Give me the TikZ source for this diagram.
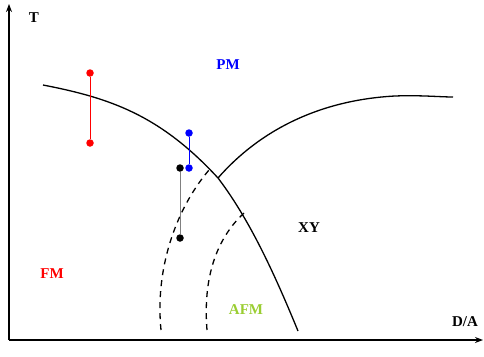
\documentclass[tikz,border=0pt]{standalone}
\usepackage{fontspec}
\setmainfont{Liberation Serif}
\usetikzlibrary{arrows.meta}
\definecolor{afmgreen}{RGB}{154,205,50}
\begin{document}
\begin{tikzpicture}[x=1pt,y=-1pt,
  lbl/.style={font=\fontsize{15}{17}\selectfont\bfseries, inner sep=0pt},
  dot/.style={circle, fill, inner sep=0pt, minimum size=7.5pt},
  curve/.style={line width=1.3pt},
  dcurve/.style={line width=1.3pt, dash pattern=on 6pt off 5pt}]
\useasboundingbox (0,0) rectangle (484,356);
% axes
\coordinate (O) at (9,340);
\coordinate (Ytop) at (9,4);
\coordinate (Xend) at (483,340);
\draw[line width=1.4pt,-{Stealth[length=8pt,width=6pt]}] (O) -- (Ytop);
\draw[line width=1.4pt,-{Stealth[length=8pt,width=6pt]}] (O) -- (Xend);
% labels
\node[lbl] (T) at (34,18) {T};
\node[lbl] (DA) at (465,322) {D/A};
\node[lbl, text=blue] (PM) at (228,65) {PM};
\node[lbl, text=red] (FM) at (52,274) {FM};
\node[lbl] (XY) at (309,228) {XY};
\node[lbl, text=afmgreen] (AFM) at (246,310) {AFM};
% main curve
\coordinate (C0) at (43,85);
\coordinate (X) at (218,178);
\coordinate (C1) at (298,331);
\draw[curve] (C0) .. controls (110,98) and (160,115) .. (X)
  .. controls (250,220) and (275,275) .. (C1);
% second curve
\coordinate (E) at (453,97);
\draw[curve] (X) .. controls (260,130) and (320,100) .. (395,96)
  .. controls (420,95) and (440,97) .. (E);
% dashed curves
\coordinate (D1a) at (161,330);
\coordinate (D1b) at (209,170);
\draw[dcurve] (D1a) .. controls (155,270) and (175,210) .. (D1b);
\coordinate (D2a) at (207,330);
\coordinate (D2b) at (244,213);
\draw[dcurve] (D2a) .. controls (203,280) and (215,240) .. (D2b);
% red
\node[dot, red] (r1) at (90,73) {};
\node[dot, red] (r2) at (90,143) {};
\draw[red, line width=0.8pt] (r1) -- (r2);
% black
\node[dot, black] (k1) at (180,168) {};
\node[dot, black] (k2) at (180,238) {};
\draw[gray, line width=0.8pt] (k1) -- (k2);
% blue
\node[dot, blue] (b1) at (189,133) {};
\node[dot, blue] (b2) at (189,168) {};
\draw[blue, line width=0.8pt] (b1) -- (b2);
\end{tikzpicture}
\end{document}
